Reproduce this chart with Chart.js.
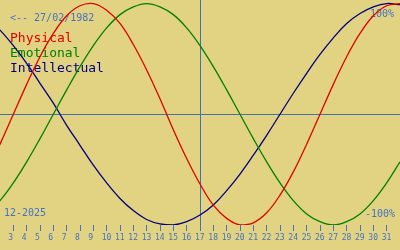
<!DOCTYPE html>
<html>
<head>
<meta charset="utf-8">
<script src="https://cdn.jsdelivr.net/npm/chart.js@4/dist/chart.umd.min.js"></script>
<style>
  html, body { margin: 0; padding: 0; background: #e1d382; }
  #wrap { position: relative; width: 400px; height: 250px; }
</style>
</head>
<body>
<div id="wrap"><canvas id="bio" width="400" height="250"></canvas></div>
<script>
  // biorhythm for 12-2025, born 27/02/1982 — values in percent, one per day
  var days = [1, 2, 3, 4, 5, 6, 7, 8, 9, 10, 11, 12, 13, 14, 15, 16,
              17, 18, 19, 20, 21, 22, 23, 24, 25, 26, 27, 28, 29, 30, 31, 32];
  var physical = [-52, -27, 0, 27, 52, 73, 89, 98, 100, 94, 82, 63, 40, 14, -14, -40,
                  -63, -82, -94, -100, -98, -89, -73, -52, -27, 0, 27, 52, 73, 89, 98, 100];
  var emotional = [-90, -78, -62, -43, -22, 0, 22, 43, 62, 78, 90, 97, 100, 97, 90, 78,
                   62, 43, 22, 0, -22, -43, -62, -78, -90, -97, -100, -97, -90, -78, -62, -43];
  var intellectual = [87, 76, 62, 46, 28, 10, -10, -28, -46, -62, -76, -87, -95, -99, -100, -97,
                      -91, -82, -69, -54, -37, -19, 0, 19, 37, 54, 69, 82, 91, 97, 100, 99];
  var today = 17;
  var birth = "27/02/1982";
  var month = "12-2025";

  var MONO = "'DejaVu Sans Mono', 'Liberation Mono', monospace";
  var BLUE = "#4472c4";

  function pts(vals) { return days.map(function (d, i) { return { x: d, y: vals[i] }; }); }
  function series(label, vals, color) {
    return { label: label, data: pts(vals), borderColor: color, borderWidth: 1.3,
      pointRadius: 0, tension: 0.4, fill: false };
  }

  /* guide lines + labels, placed through the scales */
  var overlay = {
    id: "overlay",
    beforeDatasetsDraw: function (chart) {
      var ctx = chart.ctx, a = chart.chartArea, x = chart.scales.x, y = chart.scales.y;
      ctx.save();
      ctx.lineWidth = 1;
      ctx.strokeStyle = "#4670a8";
      var y0 = Math.round(y.getPixelForValue(0)) + 0.5;
      ctx.beginPath(); ctx.moveTo(a.left, y0); ctx.lineTo(a.right, y0); ctx.stroke();
      ctx.strokeStyle = "#3f70c0";
      var xt = Math.round(x.getPixelForValue(today)) + 0.5;
      ctx.beginPath(); ctx.moveTo(xt, a.top); ctx.lineTo(xt, a.bottom); ctx.stroke();

      ctx.textBaseline = "alphabetic";
      ctx.textAlign = "left";
      ctx.font = "10px " + MONO;
      ctx.fillStyle = BLUE;
      ctx.fillText("<-- " + birth, 10, 21);
      ctx.fillText(month, 4, 216);
      ctx.textAlign = "right";
      ctx.fillText("100%", 394, 17);
      ctx.fillText("-100%", 395, 217);

      ctx.textAlign = "left";
      ctx.font = "13px " + MONO;
      ctx.fillStyle = "#e00000"; ctx.fillText("Physical", 10, 42);
      ctx.fillStyle = "#008000"; ctx.fillText("Emotional", 10, 57);
      ctx.fillStyle = "#000080"; ctx.fillText("Intellectual", 10, 72);
      ctx.restore();
    }
  };

  new Chart(document.getElementById("bio").getContext("2d"), {
    type: "line",
    data: { datasets: [
      series("Physical", physical, "#e00000"),
      series("Emotional", emotional, "#008000"),
      series("Intellectual", intellectual, "#000080")
    ] },
    options: {
      responsive: false, animation: false,
      layout: { padding: 0 },
      plugins: { legend: { display: false }, tooltip: { enabled: false } },
      scales: {
        x: {
          type: "linear", min: 2, max: 32,
          afterBuildTicks: function (s) { s.ticks = s.ticks.filter(function (t) { return t.value >= 3 && t.value <= 31; }); },
          afterFit: function (s) { s.height = 25; s.paddingLeft = 0; s.paddingRight = 0; },
          grid: { drawOnChartArea: false, drawTicks: true, tickLength: 6, color: BLUE },
          border: { display: false },
          ticks: { stepSize: 1, autoSkip: false, maxRotation: 0, align: "start", labelOffset: -5,
            padding: 2, color: BLUE, font: { family: MONO, size: 8 } }
        },
        y: { display: false, min: -100, max: 103.2 }
      }
    },
    plugins: [overlay]
  });
</script>
</body>
</html>
